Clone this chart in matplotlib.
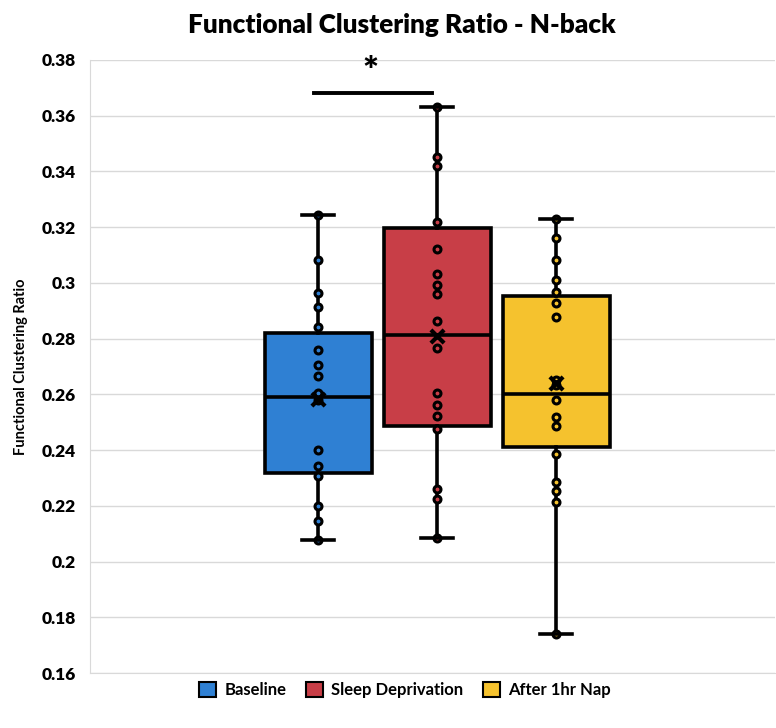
import matplotlib
matplotlib.use('Agg')
import matplotlib.pyplot as plt
from matplotlib.patches import Patch
import numpy as np

# groups and colours
groups = ['Baseline', 'Sleep Deprivation', 'After 1hr Nap']
colors = ['#2F80D3', '#C83E47', '#F5C22E']

# individual subject values
baseline = [0.3243, 0.3082, 0.2962, 0.2912, 0.2842, 0.2761, 0.2706, 0.2665, 0.2605,
            0.2580, 0.2400, 0.2342, 0.2306, 0.2199, 0.2145, 0.2079]
sleep_dep = [0.3630, 0.3453, 0.3419, 0.3219, 0.3120, 0.3031, 0.2992, 0.2959, 0.2863,
             0.2767, 0.2605, 0.2561, 0.2522, 0.2474, 0.2259, 0.2226, 0.2083]
nap = [0.3228, 0.3162, 0.3084, 0.3010, 0.2968, 0.2929, 0.2878, 0.2651, 0.2633, 0.2579,
       0.2519, 0.2486, 0.2385, 0.2286, 0.2252, 0.2212, 0.1741]
points = [baseline, sleep_dep, nap]

# box statistics as drawn (Excel box & whisker)
q1 = [0.2318, 0.2486, 0.2412]
medians = [0.2589, 0.2813, 0.2601]
q3 = [0.2820, 0.3196, 0.2953]
whisk_lo = [0.2079, 0.2083, 0.1741]
whisk_hi = [0.3243, 0.3630, 0.3228]
means = [0.2583, 0.2809, 0.2640]

yticks = [0.16, 0.18, 0.20, 0.22, 0.24, 0.26, 0.28, 0.30, 0.32, 0.34, 0.36, 0.38]
sig_y = 0.3681

plt.rcParams['font.family'] = ['Lato', 'DejaVu Sans']

fig = plt.figure(figsize=(7.76, 7.28), dpi=100)
ax = fig.add_axes([90 / 776, 1 - 673 / 728, 685 / 776, 613 / 728])

pos = [-1, 0, 1]
stats = []
for i in range(3):
    stats.append(dict(med=medians[i], q1=q1[i], q3=q3[i], whislo=whisk_lo[i],
                      whishi=whisk_hi[i], mean=means[i], fliers=[], label=groups[i]))

bp = ax.bxp(stats, positions=pos, widths=0.9, patch_artist=True, showmeans=False,
            capwidths=0.27,
            boxprops=dict(linewidth=2.6, edgecolor='black'),
            medianprops=dict(color='black', linewidth=2.6),
            whiskerprops=dict(color='black', linewidth=2.6),
            capprops=dict(color='black', linewidth=2.6))
for patch, c in zip(bp['boxes'], colors):
    patch.set_facecolor(c)
    patch.set_zorder(2)
for ln in bp['whiskers'] + bp['medians']:
    ln.set_zorder(3)
for ln in bp['caps']:
    ln.set_zorder(6)

# inner points
for p, vals, c in zip(pos, points, colors):
    ax.scatter([p] * len(vals), vals, s=25, facecolor=c, edgecolor='black',
               linewidth=2.2, zorder=4)

# mean markers
ax.scatter(pos, means, marker='x', s=90, color='black', linewidth=3, zorder=5)

# significance bar
ax.plot([-1.04, -0.04], [sig_y, sig_y], color='black', linewidth=2.8, clip_on=False)
ax.text(-0.56, sig_y + 0.0015, '*', ha='center', va='bottom', fontsize=27,
        fontweight='heavy')

ax.set_xlim(-2.92, 2.84)
ax.set_ylim(0.16, 0.38)
ax.set_yticks(yticks)
ax.set_yticklabels([f'{v:g}' for v in yticks], fontsize=12.5, fontweight='heavy')
ax.set_xticks([])
ax.tick_params(axis='y', length=0, pad=10)
ax.grid(axis='y', color='#d9d9d9', linewidth=1)
ax.set_axisbelow(True)
for s in ['top', 'right']:
    ax.spines[s].set_visible(False)
ax.spines['left'].set_color('#d9d9d9')
ax.spines['bottom'].set_color('#d9d9d9')

ax.set_ylabel('Functional Clustering Ratio', fontsize=10.5, fontweight='bold', labelpad=10)

fig.text(0.518, 1 - 25 / 728, 'Functional Clustering Ratio - N-back', ha='center',
         va='center', fontsize=18.8, fontweight='heavy')

handles = [Patch(facecolor=c, edgecolor='black', linewidth=1.5) for c in colors]
fig.legend(handles, groups, loc='center', bbox_to_anchor=(0.522, 1 - 690 / 728),
           ncol=3, frameon=False, prop=dict(weight='bold', size=12),
           handlelength=1.0, handleheight=1.0, handletextpad=0.5, columnspacing=1.2)

fig.savefig('out.png', dpi=100)
